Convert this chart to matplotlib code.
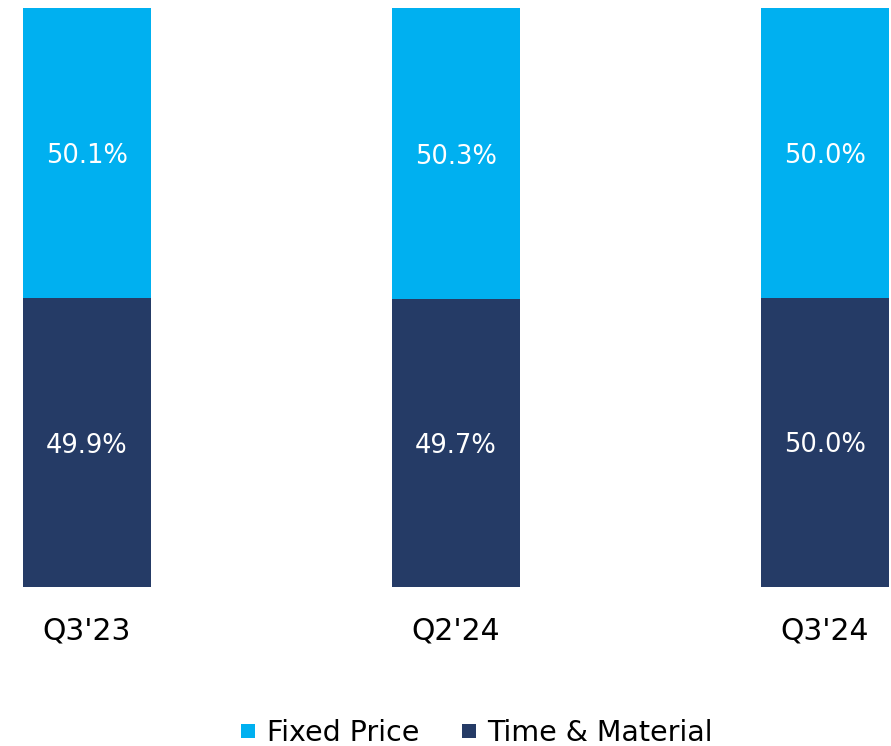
import matplotlib.pyplot as plt
import numpy as np

# data
quarters = ["Q3'23", "Q2'24", "Q3'24"]
time_material = [49.9, 49.7, 50.0]
fixed_price = [50.1, 50.3, 50.0]

light_blue = "#00B0F0"
navy = "#253B66"

fig = plt.figure(figsize=(8.91, 7.46), dpi=100)
# axes placed so bars sit where they do in the reference
ax = fig.add_axes([23 / 891, (746 - 587) / 746, 866 / 891, 579 / 746])

w = 128 / 369
x = np.arange(len(quarters))
ax.bar(x, time_material, width=w, color=navy, label="Time & Material")
ax.bar(x, fixed_price, width=w, bottom=time_material, color=light_blue, label="Fixed Price")

# value labels, nudged a bit lower to match
nudge = 0.55
for i in range(len(quarters)):
    ax.text(x[i], time_material[i] / 2 - nudge, f"{time_material[i]:.1f}%", color="white",
            ha="center", va="center", fontsize=18.5)
    ax.text(x[i], time_material[i] + fixed_price[i] / 2 - nudge, f"{fixed_price[i]:.1f}%",
            color="white", ha="center", va="center", fontsize=18.5)

ax.set_xlim(-w / 2, len(quarters) - 1 + w / 2)
ax.set_ylim(0, 100)
ax.set_xticks(x)
ax.set_xticklabels(quarters, fontsize=21.5)
ax.tick_params(axis="x", length=0, pad=21)
ax.set_yticks([])
for s in ax.spines.values():
    s.set_visible(False)

handles, labels = ax.get_legend_handles_labels()
fig.legend(handles[::-1], labels[::-1], loc="center", bbox_to_anchor=(477 / 891, 1 - 733 / 746),
           ncol=2, frameon=False, fontsize=20.5, handlelength=0.5, handleheight=0.38,
           handletextpad=0.4, columnspacing=1.5)

fig.savefig("out.png", dpi=100)
